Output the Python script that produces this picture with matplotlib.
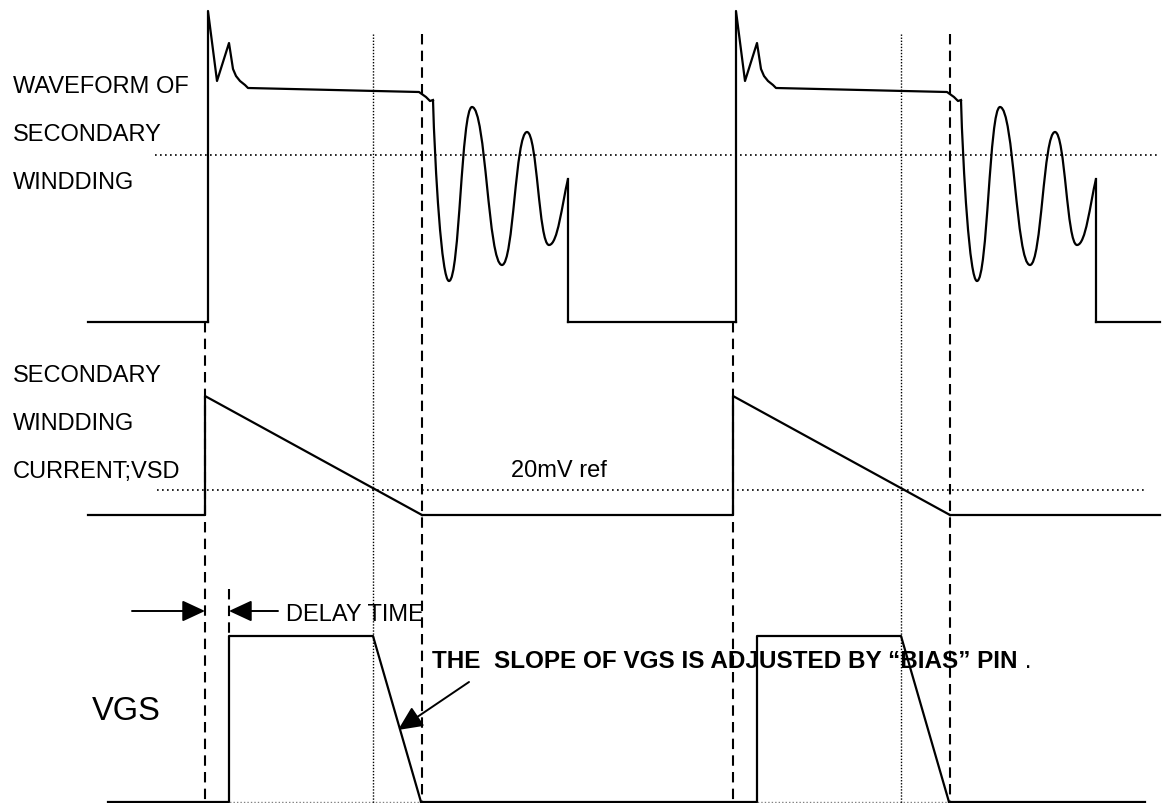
import numpy as np
import matplotlib
matplotlib.use("Agg")
import matplotlib.pyplot as plt
from matplotlib.path import Path
from matplotlib.patches import PathPatch

plt.rcParams['font.family'] = ['Liberation Sans', 'DejaVu Sans']

# timing of the two switching cycles (pixel units)
cycle_starts = [205, 733]        # rise of secondary current
x_left, x_right = 88, 1160

# secondary winding voltage, one cycle, x relative to cycle start
top_low = 323
top_head_x = [3, 3, 12, 24, 28, 31, 35, 40, 43, 214, 221, 225, 228]
top_head_y = [323, 12, 82, 44, 70, 77, 82, 86, 89, 93, 98, 102, 101]
ring_x = [228, 244, 267, 297, 322, 344, 363]   # extrema of the ringing
ring_y = [101, 282, 108, 266, 133, 246, 180]

# secondary current / VSD
cur_low, cur_peak = 516, 397
cur_end = 217
ref_20mv = 491

# VGS
vgs_low, vgs_high = 803, 637
vgs_rise, vgs_fall, vgs_end = 24, 168, 216

# timing marker lines (relative to cycle start)
dashed_marks = [0, 217]
dotted_marks = [168]
ref_top = 156

blk = 'black'
lw = 1.6

fig = plt.figure(figsize=(11.62, 8.04), dpi=100)
ax = fig.add_axes([0, 0, 1, 1])
ax.set_xlim(0, 1162)
ax.set_ylim(804, 0)
ax.axis('off')

# reference lines
ax.plot([155, 1160], [ref_top, ref_top], color=blk, lw=1.2, ls=(0, (1, 2)))
ax.plot([157, 1144], [ref_20mv, ref_20mv], color=blk, lw=1.2, ls=(0, (1, 2)))
ax.plot([108, 1145], [vgs_low, vgs_low], color='gray', lw=1.0, ls=(0, (1, 1.5)), clip_on=False)

for i, c in enumerate(cycle_starts):
    for m in dashed_marks:
        y0 = top_low if m == 0 else 35
        ax.plot([c + m, c + m], [y0, 804], color=blk, lw=1.5, ls=(0, (5, 3)))
    for m in dotted_marks:
        ax.plot([c + m, c + m], [35, 804], color=blk, lw=1.0, ls=(0, (1, 1.2)))
# delay marker on first cycle
ax.plot([cycle_starts[0] + vgs_rise] * 2, [590, vgs_high], color=blk, lw=1.5, ls=(0, (5, 3)))

# secondary winding waveform
prev = x_left
k = 0.46
for c in cycle_starts:
    ax.plot([prev, c + top_head_x[0]], [top_low, top_low], color=blk, lw=lw)
    ax.plot(np.array(top_head_x) + c, top_head_y, color=blk, lw=lw)
    verts = [(ring_x[0] + c, ring_y[0])]
    codes = [Path.MOVETO]
    for j in range(1, len(ring_x)):
        dx = ring_x[j] - ring_x[j - 1]
        if j == 1:
            c1 = (ring_x[0] + c + 2, ring_y[0] + 70)
        else:
            c1 = (ring_x[j - 1] + c + k * dx, ring_y[j - 1])
        if j == len(ring_x) - 1:
            c2 = (ring_x[j] + c - 6, ring_y[j] + 25)
        else:
            c2 = (ring_x[j] + c - k * dx, ring_y[j])
        verts += [c1, c2, (ring_x[j] + c, ring_y[j])]
        codes += [Path.CURVE4] * 3
    ax.add_patch(PathPatch(Path(verts, codes), fill=False, lw=lw, ec=blk))
    ax.plot([ring_x[-1] + c, ring_x[-1] + c], [ring_y[-1], top_low], color=blk, lw=lw)
    prev = ring_x[-1] + c
ax.plot([prev, x_right], [top_low, top_low], color=blk, lw=lw)

# secondary current
prev = x_left
for c in cycle_starts:
    ax.plot([prev, c, c, c + cur_end], [cur_low, cur_low, cur_peak, cur_low], color=blk, lw=lw)
    prev = c + cur_end
ax.plot([prev, x_right], [cur_low, cur_low], color=blk, lw=lw)

# VGS
prev = 108
for c in cycle_starts:
    ax.plot([prev, c + vgs_rise, c + vgs_rise, c + vgs_fall, c + vgs_end],
            [vgs_low, vgs_low, vgs_high, vgs_high, vgs_low], color=blk, lw=lw, clip_on=False)
    prev = c + vgs_end
ax.plot([prev, 1145], [vgs_low, vgs_low], color=blk, lw=lw, clip_on=False)

# labels
fs = 17
for txt, yb in zip(['WAVEFORM OF', 'SECONDARY', 'WINDDING'], [93, 141, 189]):
    ax.text(13, yb, txt, fontsize=fs, va='baseline', ha='left')
for txt, yb in zip(['SECONDARY', 'WINDDING', 'CURRENT;VSD'], [382, 430, 478]):
    ax.text(13, yb, txt, fontsize=fs, va='baseline', ha='left')
ax.text(511, 477, '20mV ref', fontsize=fs, va='baseline')
ax.text(92, 720, 'VGS', fontsize=23.5, va='baseline')
ax.text(286, 621, 'DELAY TIME', fontsize=fs, va='baseline')
t = ax.text(432, 668, 'THE  SLOPE OF VGS IS ADJUSTED BY \u201cBIAS\u201d PIN',
            fontsize=17.5, fontweight='bold', va='baseline')
ax.annotate(' .', xy=(1, 0), xycoords=t, fontsize=17.5, va='bottom', ha='left')

# arrows
arw = dict(arrowstyle='-|>,head_length=1.4,head_width=0.65', color=blk, lw=1.4,
           mutation_scale=10, shrinkA=0, shrinkB=0)
ax.annotate('', xy=(cycle_starts[0], 612), xytext=(132, 612), arrowprops=arw)
ax.annotate('', xy=(cycle_starts[0] + vgs_rise, 612), xytext=(278, 612), arrowprops=arw)
ax.annotate('', xy=(398, 731), xytext=(469, 683),
            arrowprops=dict(arw, arrowstyle='-|>,head_length=1.5,head_width=0.7'))

fig.savefig('out.png', dpi=100)
